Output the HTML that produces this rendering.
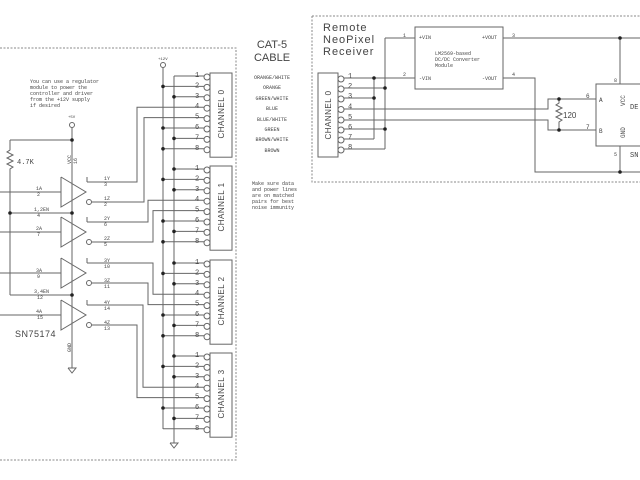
<!DOCTYPE html>
<html><head><meta charset="utf-8"><style>
html,body{margin:0;padding:0;background:#fff;width:640px;height:480px;overflow:hidden}
svg{display:block}
text{font-family:"Liberation Mono",monospace;fill:#444}
.s{font-size:5px}
.n{font-size:8px;font-family:"Liberation Sans",sans-serif}
.ch{font-size:8px;font-family:"Liberation Sans",sans-serif;text-anchor:middle;letter-spacing:0.5px}
</style></head><body>
<svg id="sv" width="640" height="480" viewBox="0 0 640 480" xmlns="http://www.w3.org/2000/svg">
<g id="g" stroke="#666" stroke-width="1" fill="none"></g>
<g id="dots" fill="#222"></g>
<text class="s" x="30" y="83">You can use a regulator</text>
<text class="s" x="30" y="89">module to power the</text>
<text class="s" x="30" y="95">controller and driver</text>
<text class="s" x="30" y="101">from the +12V supply</text>
<text class="s" x="30" y="107">if desired</text>
<text class="s" x="158" y="60" style="font-size:4px">+12V</text>
<text class="s" x="68" y="118" style="font-size:4px">+5V</text>
<text x="17" y="164" style="font-size:7px">4.7K</text>
<text x="15" y="337" style="font-size:9px;font-family:'Liberation Sans',sans-serif;letter-spacing:0.5px">SN75174</text>
<text class="s" transform="translate(71,164) rotate(-90)">VCC</text>
<text class="s" transform="translate(77,164) rotate(-90)">16</text>
<text class="s" transform="translate(71,352) rotate(-90)">GND</text>
<text class="s" x="36" y="190">1A</text><text class="s" x="37" y="196">2</text>
<text class="s" x="34" y="211">1,2EN</text><text class="s" x="37" y="217">4</text>
<text class="s" x="36" y="230">2A</text><text class="s" x="37" y="236">7</text>
<text class="s" x="36" y="272">3A</text><text class="s" x="37" y="278">9</text>
<text class="s" x="34" y="293">3,4EN</text><text class="s" x="37" y="299">12</text>
<text class="s" x="36" y="313">4A</text><text class="s" x="37" y="319">15</text>
<text class="s" x="104" y="180">1Y</text><text class="s" x="104" y="186">3</text>
<text class="s" x="104" y="200">1Z</text><text class="s" x="104" y="206">2</text>
<text class="s" x="104" y="220">2Y</text><text class="s" x="104" y="226">6</text>
<text class="s" x="104" y="240">2Z</text><text class="s" x="104" y="246">5</text>
<text class="s" x="104" y="262">3Y</text><text class="s" x="104" y="268">10</text>
<text class="s" x="104" y="282">3Z</text><text class="s" x="104" y="288">11</text>
<text class="s" x="104" y="304">4Y</text><text class="s" x="104" y="310">14</text>
<text class="s" x="104" y="324">4Z</text><text class="s" x="104" y="330">13</text>
<text class="ch" transform="translate(224,114) rotate(-90)">CHANNEL 0</text>
<text class="ch" transform="translate(224,207) rotate(-90)">CHANNEL 1</text>
<text class="ch" transform="translate(224,301) rotate(-90)">CHANNEL 2</text>
<text class="ch" transform="translate(224,394) rotate(-90)">CHANNEL 3</text>
<g id="pn" style="font-size:7px;font-family:'Liberation Sans',sans-serif"></g>
<text x="272" y="48" text-anchor="middle" style="font-size:11px;font-family:'Liberation Sans',sans-serif">CAT-5</text>
<text x="272" y="61" text-anchor="middle" style="font-size:11px;font-family:'Liberation Sans',sans-serif">CABLE</text>
<g class="s" text-anchor="middle">
<text x="272" y="79">ORANGE/WHITE</text><text x="272" y="89">ORANGE</text>
<text x="272" y="100">GREEN/WHITE</text><text x="272" y="110">BLUE</text>
<text x="272" y="121">BLUE/WHITE</text><text x="272" y="131">GREEN</text>
<text x="272" y="141">BROWN/WHITE</text><text x="272" y="152">BROWN</text>
</g>
<text class="s" x="252" y="185">Make sure data</text>
<text class="s" x="252" y="191">and power lines</text>
<text class="s" x="252" y="197">are on matched</text>
<text class="s" x="252" y="203">pairs for best</text>
<text class="s" x="252" y="209">noise immunity</text>
<text x="323" y="31" style="font-size:11px;font-family:'Liberation Sans',sans-serif;letter-spacing:1px">Remote</text>
<text x="323" y="43" style="font-size:11px;font-family:'Liberation Sans',sans-serif;letter-spacing:1px">NeoPixel</text>
<text x="323" y="55" style="font-size:11px;font-family:'Liberation Sans',sans-serif;letter-spacing:1px">Receiver</text>
<text class="ch" transform="translate(331,115) rotate(-90)">CHANNEL 0</text>
<text class="s" x="419" y="39">+VIN</text><text class="s" x="482" y="39">+VOUT</text>
<text class="s" x="419" y="80">-VIN</text><text class="s" x="482" y="80">-VOUT</text>
<text class="s" x="435" y="55">LM2569-based</text>
<text class="s" x="435" y="61">DC/DC Converter</text>
<text class="s" x="435" y="67">Module</text>
<text class="s" x="403" y="37">1</text><text class="s" x="403" y="76">2</text>
<text class="s" x="512" y="37">3</text><text class="s" x="512" y="76">4</text>
<text x="563" y="118" style="font-size:8px;font-family:'Liberation Sans',sans-serif">120</text>
<text class="s" x="586" y="98" style="font-size:6px">6</text><text class="s" x="586" y="129" style="font-size:6px">7</text>
<text class="s" x="599" y="102" style="font-size:6px">A</text><text class="s" x="599" y="133" style="font-size:6px">B</text>
<text class="s" transform="translate(625,106) rotate(-90)" style="font-size:6px">VCC</text>
<text class="s" transform="translate(625,138) rotate(-90)" style="font-size:6px">GND</text>
<text class="s" x="614" y="82">8</text><text class="s" x="614" y="156">5</text>
<text x="630" y="157" style="font-size:7px">SN</text>
<text x="630" y="109" style="font-size:7px">DE</text>
</svg>
<script>
const g=document.getElementById('g'),d=document.getElementById('dots'),pn=document.getElementById('pn');
const NS='http://www.w3.org/2000/svg';
function el(p,t,a){const e=document.createElementNS(NS,t);for(const k in a)e.setAttribute(k,a[k]);p.appendChild(e);return e;}
function P(pts,extra){el(g,'polyline',Object.assign({points:pts},extra||{}));}
function dot(x,y){el(d,'circle',{cx:x,cy:y,r:1.8});}
P('0,48 236,48 236,460 0,460',{'stroke-dasharray':'2,1.5','stroke':'#888'});
P('312,16 640,16',{'stroke-dasharray':'2,1.5','stroke':'#888'});
P('312,16 312,182 640,182',{'stroke-dasharray':'2,1.5','stroke':'#888'});
P('163,68 163,429');el(g,'circle',{cx:163,cy:65,r:2.5});
P('174,76 174,443');P('170,443 178,443 174,448 170,443');
const pin1=[76,169,263,356],sp=10.4;
pin1.forEach((y0,c)=>{
 el(g,'rect',{x:210,y:y0-3,width:22,height:8*sp+1});
 for(let i=0;i<8;i++){const y=y0+i*sp;el(g,'circle',{cx:207,cy:y+1,r:3});
  const t=el(pn,'text',{x:195,y:y+1});t.textContent=i+1;
  if([0,2,6].includes(i)){P(`174,${y} 204,${y}`);if(!(c==0&&i==0))dot(174,y);}
  if([1,5,7].includes(i)){P(`163,${y} 204,${y}`);if(!(c==3&&i==7))dot(163,y);}
 }});
const tips=[192,232,273,315];
const routes=[[137,144,0],[148,153,1],[153,148,2],[143,137,3]];
tips.forEach((t,k)=>{
 P(`61,${t-15} 86,${t} 61,${t+15} 61,${t-15}`);
 P(`0,${t} 61,${t}`);
 P(`87,${t-15} 87,${t-10}`);
 const yY=t-10,yZ=t+10;
 el(g,'circle',{cx:89,cy:yZ,r:2.5});
 const pY=pin1[routes[k][2]]+3*sp,pZ=pin1[routes[k][2]]+4*sp;
 P(`87,${yY} ${routes[k][0]},${yY} ${routes[k][0]},${pY} 204,${pY}`);
 P(`92,${yZ} ${routes[k][1]},${yZ} ${routes[k][1]},${pZ} 204,${pZ}`);
});
P('72,128 72,340');el(g,'circle',{cx:72,cy:125,r:2.5});
P('10,140 72,140');dot(72,140);
P('10,140 10,150 7,152 13,155 7,158 13,161 7,164 13,167 10,169 10,295');
P('10,213 72,213');dot(10,213);dot(72,213);
P('10,295 72,295');dot(72,295);
P('68,368 76,368 72,373 68,368');P('72,340 72,368');
el(g,'rect',{x:318,y:73,width:20,height:84});
el(g,'rect',{x:415,y:27,width:88,height:62});
el(g,'rect',{x:596,y:84,width:50,height:62});
const ry=[78,88,98,108.5,119,129,139,149];
ry.forEach((y,i)=>{el(g,'circle',{cx:341,cy:y+1,r:3});const t=el(pn,'text',{x:348,y:y});t.textContent=i+1;});
P('344,78 374,78');P('344,88 385,88');P('344,98 374,98');P('344,129 385,129');
P('344,139 374,139');P('344,149 385,149');
P('374,78 374,139');P('385,38 385,149');
P('385,38 415,38');P('374,78 415,78');
dot(374,78);dot(385,88);dot(374,98);dot(385,129);
P('503,38 640,38');dot(620,38);P('620,38 620,84');
P('503,78 535,78 535,172 640,172');dot(620,172);P('620,146 620,172');
P('344,109 548,109 548,99 596,99');P('344,120 548,120 548,130 596,130');
P('559,99 559,103 556,105 562,108 556,111 562,114 556,117 562,120 559,122 559,130');
dot(559,99);dot(559,130);
</script>
</body></html>
